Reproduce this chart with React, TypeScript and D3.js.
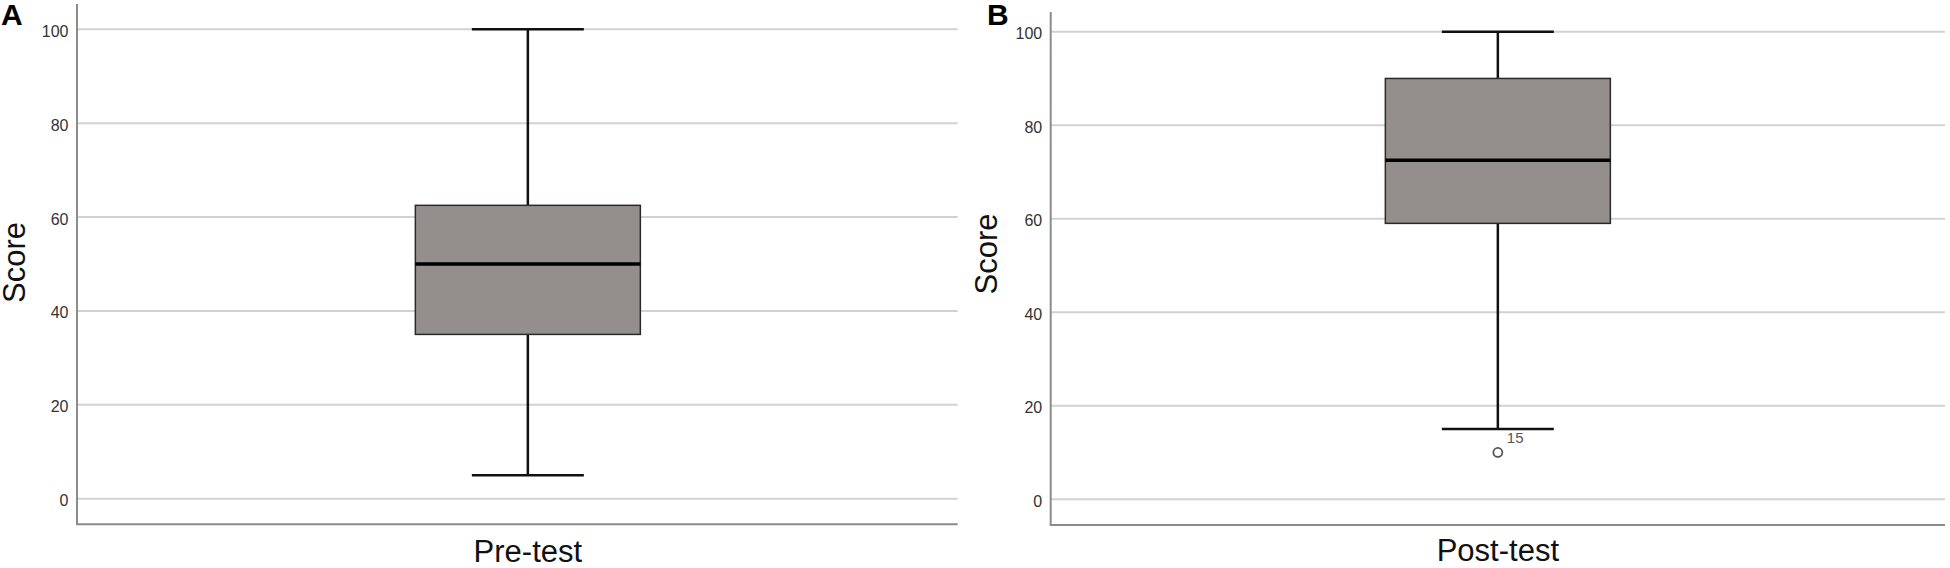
import React, { useEffect, useRef } from "react";
import * as d3 from "d3";

// box-plot summaries
const categories = ["Pre-test", "Post-test"];
const panelLetters = ["A", "B"];
const mins = [5, 15];
const q1s = [35, 59];
const medians = [50, 72.5];
const q3s = [62.5, 90];
const maxs = [100, 100];
const outliers = [[], [{ value: 10, label: "15" }]];
const yTicks = [0, 20, 40, 60, 80, 100];

const W = 1950;
const H = 568;

// layout for each panel
const panels = [
  {
    axisX: 77,
    right: 957.7,
    top: 4,
    baseY: 524.3,
    yRange: [498.7, 29.3],
    bandRange: [98, 957.7],
    letterX: 1,
    scoreX: 25,
    scoreY: 262.5,
    catY: 562,
  },
  {
    axisX: 1050.7,
    right: 1945,
    top: 12,
    baseY: 525,
    yRange: [499.2, 31.7],
    bandRange: [1050.7, 1945],
    letterX: 987,
    scoreX: 997,
    scoreY: 254,
    catY: 561,
  },
];

const BOX_W = 225;
const CAP_W = 112;

const App: React.FC = () => {
  const svgRef = useRef<SVGSVGElement | null>(null);

  useEffect(() => {
    if (!svgRef.current) return;
    const svg = d3.select(svgRef.current);
    svg.selectAll("*").remove();
    const font = "'Liberation Sans', Arial, sans-serif";

    panels.forEach((p, i) => {
      const g = svg.append("g");
      const y = d3.scaleLinear().domain([0, 100]).range(p.yRange);
      const span = p.bandRange[1] - p.bandRange[0];
      const outer = (span / BOX_W - 1) / 2;
      const x = d3
        .scaleBand()
        .domain([categories[i]])
        .range(p.bandRange as [number, number])
        .paddingInner(0)
        .paddingOuter(outer);
      const cx = (x(categories[i]) || 0) + x.bandwidth() / 2;

      // gridlines
      g.selectAll(".grid")
        .data(yTicks)
        .join("line")
        .attr("x1", p.axisX)
        .attr("x2", p.right)
        .attr("y1", (d) => y(d))
        .attr("y2", (d) => y(d))
        .attr("stroke", "#d2d2d2")
        .attr("stroke-width", 2);

      // tick labels
      g.selectAll(".tick")
        .data(yTicks)
        .join("text")
        .attr("x", p.axisX - 8.5)
        .attr("y", (d) => y(d) + 7.5)
        .attr("text-anchor", "end")
        .attr("font-family", font)
        .attr("font-size", "16px")
        .attr("fill", "#333")
        .text((d) => String(d));

      // axes
      g.append("path")
        .attr("d", `M${p.axisX},${p.top}V${p.baseY}H${p.right}`)
        .attr("fill", "none")
        .attr("stroke", "#8c8c8c")
        .attr("stroke-width", 2);

      // whiskers
      g.append("line")
        .attr("x1", cx)
        .attr("x2", cx)
        .attr("y1", y(maxs[i]))
        .attr("y2", y(mins[i]))
        .attr("stroke", "#111")
        .attr("stroke-width", 2.5);
      [mins[i], maxs[i]].forEach((v) => {
        g.append("line")
          .attr("x1", cx - CAP_W / 2)
          .attr("x2", cx + CAP_W / 2)
          .attr("y1", y(v))
          .attr("y2", y(v))
          .attr("stroke", "#111")
          .attr("stroke-width", 2.5);
      });

      // box
      g.append("rect")
        .attr("x", x(categories[i]) || 0)
        .attr("y", y(q3s[i]))
        .attr("width", x.bandwidth())
        .attr("height", y(q1s[i]) - y(q3s[i]))
        .attr("fill", "#948f8d")
        .attr("stroke", "#2a2a2a")
        .attr("stroke-width", 1.5);

      g.append("line")
        .attr("x1", x(categories[i]) || 0)
        .attr("x2", (x(categories[i]) || 0) + x.bandwidth())
        .attr("y1", y(medians[i]))
        .attr("y2", y(medians[i]))
        .attr("stroke", "#000")
        .attr("stroke-width", 3.5);

      // outliers
      outliers[i].forEach((o) => {
        g.append("circle")
          .attr("cx", cx)
          .attr("cy", y(o.value))
          .attr("r", 4.5)
          .attr("fill", "white")
          .attr("stroke", "#555")
          .attr("stroke-width", 1.8);
        g.append("text")
          .attr("x", cx + 9)
          .attr("y", y(o.value) - 9.5)
          .attr("font-family", font)
          .attr("font-size", "15px")
          .attr("fill", "#555")
          .text(o.label);
      });

      // category label
      g.append("text")
        .attr("x", cx)
        .attr("y", p.catY)
        .attr("text-anchor", "middle")
        .attr("font-family", font)
        .attr("font-size", "31px")
        .attr("fill", "#111")
        .text(categories[i]);

      // y title
      g.append("text")
        .attr("transform", `translate(${p.scoreX},${p.scoreY}) rotate(-90)`)
        .attr("text-anchor", "middle")
        .attr("font-family", font)
        .attr("font-size", "31px")
        .attr("fill", "#111")
        .text("Score");

      // panel letter
      g.append("text")
        .attr("x", p.letterX)
        .attr("y", 25)
        .attr("font-family", font)
        .attr("font-size", "30px")
        .attr("font-weight", "bold")
        .attr("fill", "#000")
        .text(panelLetters[i]);
    });
  }, []);

  return (
    <svg
      ref={svgRef}
      width={W}
      height={H}
      style={{ position: "absolute", left: 0, top: 0, background: "white" }}
    ></svg>
  );
};

export default App;
